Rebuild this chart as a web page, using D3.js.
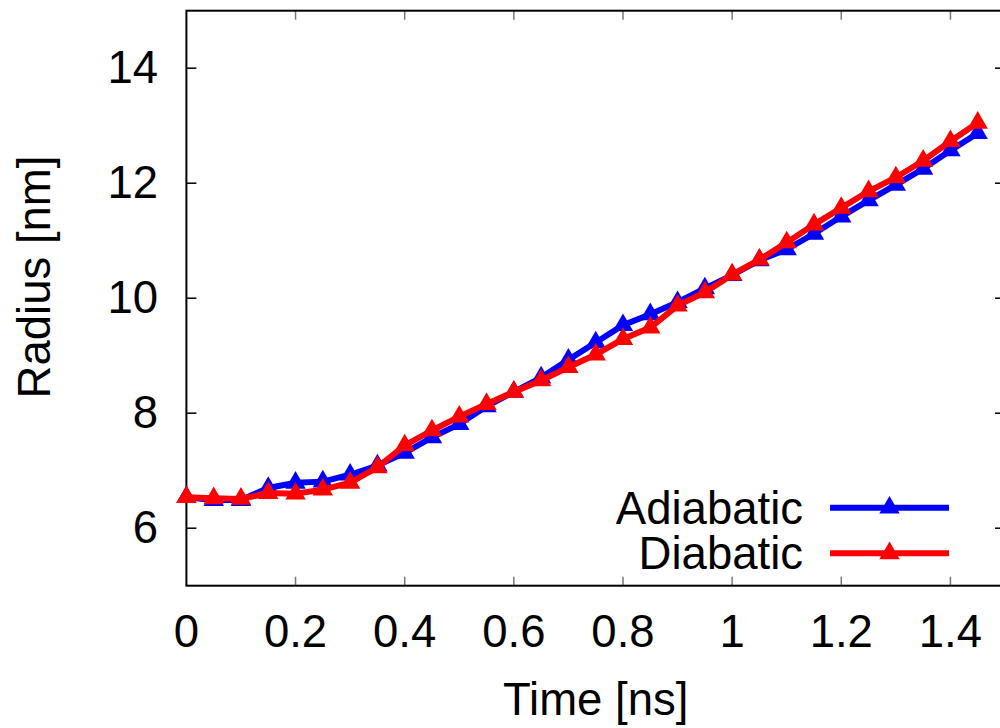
<!DOCTYPE html>
<html><head><meta charset="utf-8">
<script src="https://cdn.jsdelivr.net/npm/d3@7"></script>
<style>html,body{margin:0;padding:0;background:#fff;overflow:hidden}svg{display:block}</style>
</head><body>
<script>
const time = [0,0.05,0.1,0.15,0.2,0.25,0.3,0.35,0.4,0.45,0.5,0.55,0.6,0.65,0.7,0.75,0.8,0.85,0.9,0.95,1.0,1.05,1.1,1.15,1.2,1.25,1.3,1.35,1.4,1.45];
const adiabatic = [6.54,6.49,6.49,6.70,6.79,6.81,6.93,7.09,7.31,7.58,7.81,8.12,8.37,8.62,8.93,9.23,9.53,9.72,9.93,10.17,10.40,10.66,10.85,11.12,11.42,11.70,11.97,12.25,12.57,12.87];
const diabatic = [6.54,6.52,6.51,6.61,6.60,6.67,6.79,7.06,7.44,7.70,7.94,8.16,8.37,8.57,8.80,9.02,9.29,9.49,9.87,10.10,10.41,10.67,10.97,11.28,11.57,11.86,12.10,12.39,12.73,13.05];
const xTicks = [0,0.2,0.4,0.6,0.8,1,1.2,1.4];
const yTicks = [6,8,10,12,14];
const seriesNames = ["Adiabatic","Diabatic"];
const seriesColors = ["#0000ff","#ff0000"];

const W=1000,H=728;
const L=186.4,R=1005,T=10.7,B=585.7;
const FS=45.5;
const svg=d3.select("body").append("svg").attr("width",W).attr("height",H)
  .style("font-family","'Liberation Sans', Arial, sans-serif");
const x=d3.scaleLinear().domain([0,1.5]).range([L,R]);
const y=d3.scaleLinear().domain([5,15]).range([B,T]);

// ticks
const g=svg.append("g");
xTicks.forEach(v=>{
  if(v>0){
    g.append("line").attr("x1",x(v)).attr("x2",x(v)).attr("y1",B).attr("y2",B-9).attr("stroke","#777").attr("stroke-width",1.5);
    g.append("line").attr("x1",x(v)).attr("x2",x(v)).attr("y1",T).attr("y2",T+9).attr("stroke","#777").attr("stroke-width",1.5);
  }
  g.append("text").attr("x",x(v)).attr("y",647).attr("text-anchor","middle").attr("font-size",FS).text(d3.format("~g")(v));
});
yTicks.forEach(v=>{
  g.append("line").attr("x1",L).attr("x2",L+10).attr("y1",y(v)).attr("y2",y(v)).attr("stroke","#000").attr("stroke-width",1.5);
  g.append("line").attr("x1",R).attr("x2",R-10).attr("y1",y(v)).attr("y2",y(v)).attr("stroke","#000").attr("stroke-width",1.5);
  g.append("text").attr("x",158).attr("y",y(v)+15).attr("text-anchor","end").attr("font-size",FS).text(v);
});
svg.append("rect").attr("x",L).attr("y",T).attr("width",R-L).attr("height",B-T).attr("fill","none").attr("stroke","#000").attr("stroke-width",2);

svg.append("text").attr("x",(L+R)/2).attr("y",715).attr("text-anchor","middle").attr("font-size",FS).text("Time [ns]");
svg.append("text").attr("transform","translate(50,277) rotate(-90)").attr("text-anchor","middle").attr("font-size",FS).text("Radius [nm]");

const tri=d3.symbol().type(d3.symbolTriangle).size(180);
const data=[adiabatic,diabatic];
const line=d3.line().x((d,i)=>x(time[i])).y(d=>y(d));
data.forEach((vals,k)=>{
  const gs=svg.append("g");
  gs.append("path").datum(vals).attr("d",line).attr("fill","none").attr("stroke",seriesColors[k]).attr("stroke-width",6).attr("stroke-linejoin","miter");
  gs.selectAll("path.pt").data(vals).enter().append("path").attr("class","pt")
    .attr("d",tri).attr("transform",(d,i)=>`translate(${x(time[i])},${y(d)})`).attr("fill",seriesColors[k]);
});

// legend
const legY=[507.7,553.3];
seriesNames.forEach((n,k)=>{
  svg.append("text").attr("x",803).attr("y",legY[k]+16).attr("text-anchor","end").attr("font-size",FS).text(n);
  svg.append("line").attr("x1",830).attr("x2",949).attr("y1",legY[k]).attr("y2",legY[k]).attr("stroke",seriesColors[k]).attr("stroke-width",6);
  svg.append("path").attr("d",tri).attr("transform",`translate(889.5,${legY[k]})`).attr("fill",seriesColors[k]);
});
</script>
</body></html>
